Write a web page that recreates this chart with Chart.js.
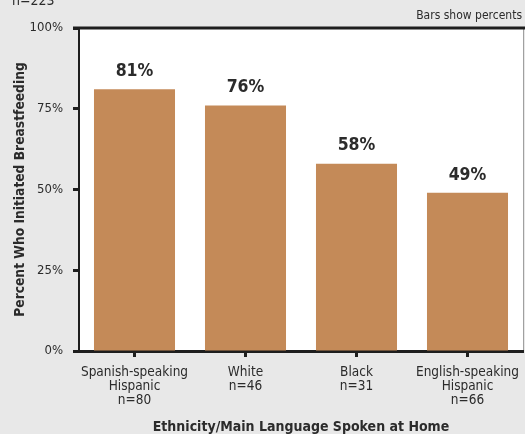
<!DOCTYPE html>
<html>
<head>
<meta charset="utf-8">
<script src="https://cdn.jsdelivr.net/npm/chart.js@4"></script>
<style>
  html, body { margin: 0; padding: 0; background: #e8e8e8; }
  #wrap { width: 525px; height: 434px; }
</style>
</head>
<body>
<div id="wrap"><canvas id="grafico" width="525" height="434"></canvas></div>
<script>
// datos
const categorias = [
    ['Spanish-speaking', 'Hispanic', 'n=80'],
    ['White', 'n=46'],
    ['Black', 'n=31'],
    ['English-speaking', 'Hispanic', 'n=66']
];
const porcentajes = [81, 76, 58, 49];
const ticksY = [0, 25, 50, 75, 100];

const FUENTE = '"Liberation Sans Narrow", "DejaVu Sans Condensed", sans-serif';
const TEXTO = '#2b2b2b';

// fondo blanco del área, línea superior, etiquetas y notas
const extras = {
    id: 'extras',
    beforeDraw(chart) {
        const { ctx, chartArea: a } = chart;
        ctx.save();
        ctx.fillStyle = '#ffffff';
        ctx.fillRect(a.left, a.top, a.right - a.left, a.bottom - a.top);
        ctx.strokeStyle = '#a0a0a0';
        ctx.lineWidth = 1;
        ctx.beginPath();
        ctx.moveTo(a.right + 0.5, a.top);
        ctx.lineTo(a.right + 0.5, a.bottom);
        ctx.stroke();
        ctx.restore();
    },
    afterDraw(chart) {
        const { ctx, chartArea: a } = chart;
        ctx.save();
        ctx.strokeStyle = '#1e1e1e';
        ctx.lineWidth = 3;
        ctx.beginPath();
        ctx.moveTo(a.left - 6, a.top);
        ctx.lineTo(chart.width, a.top);
        ctx.stroke();

        ctx.fillStyle = TEXTO;
        ctx.font = 'bold 17.5px ' + FUENTE;
        ctx.textAlign = 'center';
        ctx.textBaseline = 'bottom';
        chart.getDatasetMeta(0).data.forEach((bar, i) => {
            ctx.fillText(porcentajes[i] + '%', bar.x, bar.y - 9);
        });

        ctx.font = '12px ' + FUENTE;
        ctx.textAlign = 'right';
        ctx.textBaseline = 'middle';
        ctx.fillText('Bars show percents', 522, 16);

        ctx.font = '14px ' + FUENTE;
        ctx.textAlign = 'left';
        ctx.textBaseline = 'alphabetic';
        ctx.fillText('n=223', 12, 5);
        ctx.restore();
    }
};

new Chart(document.getElementById('grafico').getContext('2d'), {
    type: 'bar',
    data: {
        labels: categorias,
        datasets: [{
            data: porcentajes,
            backgroundColor: '#c48a58',
            barPercentage: 0.73,
            categoryPercentage: 1
        }]
    },
    options: {
        responsive: false,
        animation: false,
        layout: { padding: { top: 28, right: 2, left: 0, bottom: 0 } },
        plugins: { legend: { display: false }, tooltip: { enabled: false } },
        scales: {
            x: {
                afterFit(scale) {
                    scale.height = 83;
                    scale.paddingLeft = 0;
                    scale.paddingRight = 0;
                },
                grid: {
                    offset: false,
                    drawOnChartArea: false,
                    tickLength: 6,
                    tickWidth: 3,
                    tickColor: '#1e1e1e'
                },
                border: { color: '#1e1e1e', width: 3 },
                ticks: {
                    color: TEXTO,
                    font: { family: FUENTE, size: 13.5, lineHeight: 1.02 },
                    padding: 9,
                    maxRotation: 0,
                    autoSkip: false
                },
                title: {
                    display: true,
                    text: 'Ethnicity/Main Language Spoken at Home',
                    color: TEXTO,
                    font: { family: FUENTE, size: 14, weight: 'bold', lineHeight: 1.0 },
                    padding: { top: 10, bottom: 0 }
                }
            },
            y: {
                min: 0,
                max: 100,
                afterFit(scale) { scale.width = 79; },
                afterBuildTicks(scale) { scale.ticks = ticksY.map(v => ({ value: v })); },
                grid: {
                    drawOnChartArea: false,
                    tickLength: 6,
                    tickWidth: 3,
                    tickColor: '#1e1e1e'
                },
                border: { color: '#1e1e1e', width: 2 },
                ticks: {
                    color: TEXTO,
                    font: { family: FUENTE, size: 13 },
                    padding: 10,
                    callback: v => v + '%'
                },
                title: {
                    display: true,
                    text: 'Percent Who Initiated Breastfeeding',
                    color: TEXTO,
                    font: { family: FUENTE, size: 13.7, weight: 'bold', lineHeight: 1.2 },
                    padding: { top: 12, bottom: 0 }
                }
            }
        }
    },
    plugins: [extras]
});
</script>
</body>
</html>
